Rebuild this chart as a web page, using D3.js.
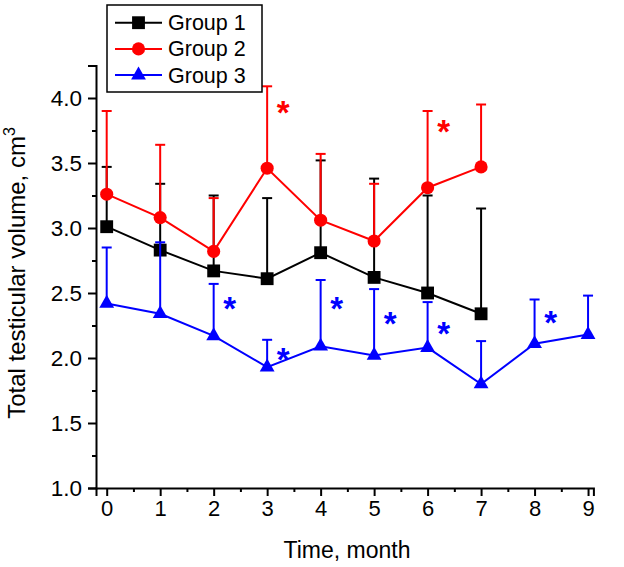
<!DOCTYPE html>
<html><head><meta charset="utf-8">
<script src="https://cdn.jsdelivr.net/npm/d3@7"></script>
<style>body{margin:0;background:#fff;} text{font-family:Arial,"Liberation Sans",sans-serif;}</style>
</head><body>
<svg id="chart" width="624" height="567"></svg>
<script>
// ---- data ----
const months1 = [0,1,2,3,4,5,6,7];
const group1 = [3.01,2.83,2.67,2.61,2.81,2.62,2.50,2.34];
const group1Err = [0.46,0.51,0.58,0.62,0.71,0.76,0.75,0.81];
const months2 = [0,1,2,3,4,5,6,7];
const group2 = [3.26,3.08,2.82,3.46,3.06,2.90,3.31,3.47];
const group2Err = [0.64,0.56,0.41,0.63,0.51,0.44,0.59,0.48];
const months3 = [0,1,2,3,4,5,6,7,8,9];
const group3 = [2.42,2.34,2.17,1.93,2.09,2.02,2.08,1.80,2.11,2.18];
const group3Err = [0.43,0.55,0.40,0.21,0.51,0.51,0.35,0.33,0.34,0.30];
const seriesNames = ["Group 1","Group 2","Group 3"];
const xTicks = [0,1,2,3,4,5,6,7,8,9];
const yTicks = [1.0,1.5,2.0,2.5,3.0,3.5,4.0];
// significance markers: [month, y-value]
const starsRed = [[3,3.95],[6,3.80]];
const starsBlue = [[2,2.44],[3,2.05],[4,2.44],[5,2.32],[6,2.25],[8,2.33]];

const svg = d3.select("#chart");
const x = d3.scaleLinear().domain([-0.2, 9.1]).range([96, 593.4]);
const y = d3.scaleLinear().domain([1.0, 4.25]).range([488, 65.5]);

// axes
const xAxis = svg.append("g").attr("transform","translate(0,488)")
  .call(d3.axisBottom(x).tickValues(xTicks).tickFormat(d3.format("d")).tickSize(8).tickPadding(4));
const xMinor = svg.append("g").attr("transform","translate(0,488)")
  .call(d3.axisBottom(x).tickValues(d3.range(0.5,9,1)).tickFormat("").tickSize(4));
const yAxis = svg.append("g").attr("transform","translate(96,0)")
  .call(d3.axisLeft(y).tickValues(yTicks).tickFormat(d3.format(".1f")).tickSize(8).tickPadding(6));
const yMinor = svg.append("g").attr("transform","translate(96,0)")
  .call(d3.axisLeft(y).tickValues(d3.range(1.25,4.25,0.5)).tickFormat("").tickSize(4));
[xAxis,xMinor,yAxis,yMinor].forEach(g=>{
  g.selectAll("path.domain").attr("stroke","#000").attr("stroke-width",2);
  g.selectAll("line").attr("stroke","#000").attr("stroke-width",2);
  g.selectAll("text").attr("font-size",22).attr("fill","#000").attr("font-family","Arial, 'Liberation Sans', sans-serif");
});
yAxis.selectAll("text").attr("font-size",22.5);
xMinor.select("path.domain").remove();
yMinor.select("path.domain").remove();

// axis titles
svg.append("text").attr("x",347).attr("y",558).attr("text-anchor","middle")
  .attr("font-size",23).text("Time, month");
const yt = svg.append("text").attr("transform","translate(25,273) rotate(-90)")
  .attr("text-anchor","middle").attr("font-size",24);
yt.append("tspan").text("Total testicular volume, cm");
yt.append("tspan").attr("font-size",16).attr("dy",-10).text("3");

const series = [
  {name:seriesNames[0], xs:months1, ys:group1, err:group1Err, color:"#000000", sym:d3.symbolSquare, size:165},
  {name:seriesNames[1], xs:months2, ys:group2, err:group2Err, color:"#ff0000", sym:d3.symbolCircle, size:135},
  {name:seriesNames[2], xs:months3, ys:group3, err:group3Err, color:"#0000ff", sym:d3.symbolTriangle, size:95}
];

const line = d3.line().x(d=>x(d[0])).y(d=>y(d[1]));
series.forEach(s=>{
  const pts = s.xs.map((m,i)=>[m, s.ys[i], s.err[i]]);
  const g = svg.append("g");
  // error bars (upper only)
  g.selectAll("line.eb").data(pts).join("line")
    .attr("x1",d=>x(d[0])).attr("x2",d=>x(d[0]))
    .attr("y1",d=>y(d[1])).attr("y2",d=>y(d[1]+d[2]))
    .attr("stroke",s.color).attr("stroke-width",2);
  g.selectAll("line.cap").data(pts).join("line")
    .attr("x1",d=>x(d[0])-5).attr("x2",d=>x(d[0])+5)
    .attr("y1",d=>y(d[1]+d[2])).attr("y2",d=>y(d[1]+d[2]))
    .attr("stroke",s.color).attr("stroke-width",2);
  g.append("path").attr("d",line(pts)).attr("fill","none").attr("stroke",s.color).attr("stroke-width",2);
  g.selectAll("path.m").data(pts).join("path")
    .attr("transform",d=>`translate(${x(d[0])},${y(d[1])})`)
    .attr("d",d3.symbol().type(s.sym).size(s.size)).attr("fill",s.color);
});

// significance stars
function stars(data,color){
  svg.append("g").selectAll("text").data(data).join("text")
    .attr("x",d=>x(d[0])+16).attr("y",d=>y(d[1])+19)
    .attr("text-anchor","middle").attr("font-weight","bold")
    .attr("font-size",33).attr("fill",color).text("*");
}
stars(starsRed,"#ff0000");
stars(starsBlue,"#0000ff");

// legend
const leg = svg.append("g");
leg.append("rect").attr("x",107).attr("y",5).attr("width",155).attr("height",87)
  .attr("fill","#fff").attr("stroke","#000").attr("stroke-width",1.5);
series.forEach((s,i)=>{
  const cy = 22.7 + i*26.2;
  leg.append("line").attr("x1",115).attr("x2",162).attr("y1",cy).attr("y2",cy)
    .attr("stroke",s.color).attr("stroke-width",2);
  leg.append("path").attr("transform",`translate(138.5,${cy})`)
    .attr("d",d3.symbol().type(s.sym).size(s.size)).attr("fill",s.color);
  leg.append("text").attr("x",168).attr("y",cy+7.5).attr("font-size",21.5).text(s.name);
});
</script>
</body></html>
